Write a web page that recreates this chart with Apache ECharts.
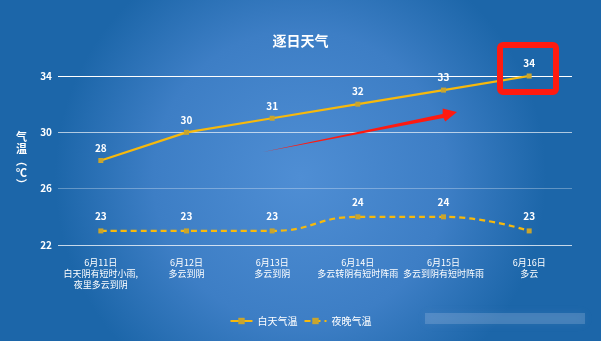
<!DOCTYPE html>
<html>
<head>
<meta charset="utf-8">
<script src="https://cdn.jsdelivr.net/npm/echarts@6/dist/echarts.min.js"></script>
<style>
  html, body { margin: 0; padding: 0; }
  #chart { width: 601px; height: 341px; }
</style>
</head>
<body>
<div id="chart"></div>
<script>
// Daily forecast: date + weather description per day
const categories = [
  '6月11日\n白天阴有短时小雨,\n夜里多云到阴',
  '6月12日\n多云到阴',
  '6月13日\n多云到阴',
  '6月14日\n多云转阴有短时阵雨',
  '6月15日\n多云到阴有短时阵雨',
  '6月16日\n多云'
];
const dayTemps = [28, 30, 31, 32, 33, 34];
const nightTemps = [23, 23, 23, 24, 24, 23];
const yTicks = [22, 26, 30, 34];

const font = '"Noto Sans CJK SC", "Noto Sans", sans-serif';
const chart = echarts.init(document.getElementById('chart'));

chart.setOption({
  backgroundColor: {
    type: 'radial', x: 0.5, y: 0.52, r: 0.72,
    colorStops: [
      { offset: 0, color: '#4f8ed4' },
      { offset: 0.6, color: '#3d7ec5' },
      { offset: 1, color: '#1c66a9' }
    ]
  },
  textStyle: { fontFamily: font },
  title: {
    text: '逐日天气',
    left: 'center',
    top: 29,
    textStyle: { color: '#fff', fontSize: 14, fontWeight: 'bold', fontFamily: font }
  },
  legend: {
    bottom: 10,
    left: 'center',
    itemWidth: 22,
    itemHeight: 8,
    itemGap: 6,
    textStyle: { color: '#fff', fontSize: 10, fontFamily: font },
    data: ['白天气温', '夜晚气温']
  },
  grid: { left: 58, right: 29, top: 76, bottom: 96 },
  xAxis: {
    type: 'category',
    data: categories,
    boundaryGap: true,
    axisLine: { show: false },
    axisTick: { show: false },
    axisLabel: {
      color: '#fff', fontSize: 9, lineHeight: 11, margin: 12,
      interval: 0, fontFamily: font
    }
  },
  yAxis: {
    type: 'value',
    min: yTicks[0],
    max: yTicks[yTicks.length - 1],
    interval: 4,
    name: '气\n温\n︵\n℃\n︶',
    nameLocation: 'middle',
    nameGap: 31,
    nameRotate: 0,
    nameTextStyle: { color: '#fff', fontSize: 11, fontWeight: 'bold', lineHeight: 12, fontFamily: font },
    axisLine: { show: false },
    axisTick: { show: false },
    axisLabel: { color: '#fff', fontSize: 10, fontWeight: 'bold', margin: 6, fontFamily: font },
    splitLine: {
      show: true,
      lineStyle: {
        color: ['rgba(255,255,255,0.75)', 'rgba(255,255,255,0.3)', 'rgba(255,255,255,0.65)', '#ffffff'],
        width: 1
      }
    }
  },
  series: [
    {
      name: '白天气温',
      type: 'line',
      data: dayTemps,
      symbol: 'rect',
      symbolSize: 5,
      itemStyle: { color: '#c9a52e' },
      lineStyle: { color: '#f7b90c', width: 2.2 },
      label: {
        show: true, position: 'top', distance: 5,
        color: '#fff', fontSize: 10, fontWeight: 'bold', fontFamily: font
      },
      z: 3
    },
    {
      name: '夜晚气温',
      type: 'line',
      data: nightTemps,
      smooth: 0.5,
      smoothMonotone: 'x',
      symbol: 'rect',
      symbolSize: 5,
      itemStyle: { color: '#c9a52e' },
      lineStyle: { color: '#f7b90c', width: 2.2, type: [6, 4] },
      label: {
        show: true, position: 'top', distance: 7,
        color: '#fff', fontSize: 10, fontWeight: 'bold', fontFamily: font
      },
      z: 3
    }
  ],
  graphic: [
    // highlight box around the hottest day
    {
      type: 'rect',
      shape: { x: 500, y: 45, width: 56, height: 47, r: 3 },
      style: { fill: 'none', stroke: '#ff1a10', lineWidth: 6 },
      z: 10
    },
    // rising-trend arrow
    {
      type: 'polygon',
      shape: {
        points: [[263, 152], [443.4, 118], [445.3, 121.4], [457, 112], [442.7, 108.6], [442.6, 114]]
      },
      style: { fill: '#ff1a10' },
      z: 10
    },
    // faint watermark patch
    {
      type: 'rect',
      shape: { x: 425, y: 313, width: 160, height: 11 },
      style: { fill: 'rgba(190,210,235,0.22)', shadowBlur: 10, shadowColor: 'rgba(190,210,235,0.35)' },
      z: 1
    }
  ]
});
</script>
</body>
</html>
